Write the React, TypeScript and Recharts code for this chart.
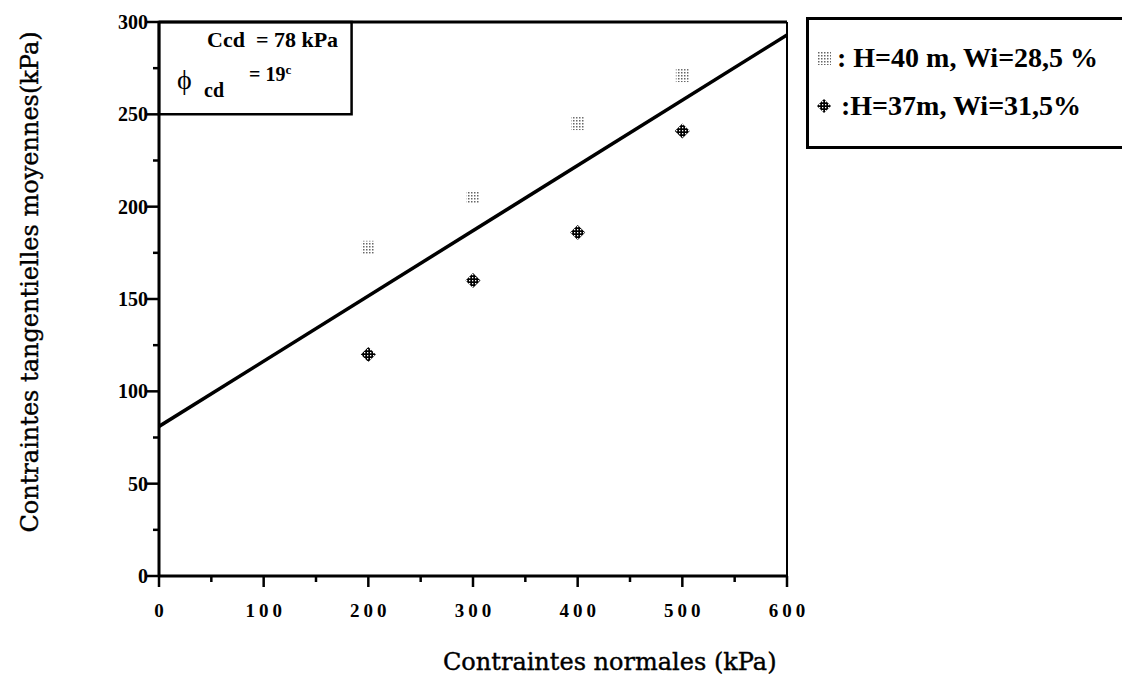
import {
  ComposedChart,
  Line,
  Scatter,
  XAxis,
  YAxis,
  ReferenceLine,
  ReferenceArea,
  Legend,
  Label,
} from "recharts";

const xTicks = [0, 50, 100, 150, 200, 250, 300, 350, 400, 450, 500, 550, 600];
const yTicks = [0, 25, 50, 75, 100, 125, 150, 175, 200, 225, 250, 275, 300];

// H=40 m, Wi=28,5 %
const serieH40 = [
  { x: 200, y: 178 },
  { x: 300, y: 205 },
  { x: 400, y: 245 },
  { x: 500, y: 271 },
];

// H=37m, Wi=31,5%
const serieH37 = [
  { x: 200, y: 120 },
  { x: 300, y: 160 },
  { x: 400, y: 186 },
  { x: 500, y: 241 },
];

// droite intrinsèque
const droite = [
  { x: 0, y: 81 },
  { x: 600, y: 293 },
];

const serif = "'Liberation Serif', 'DejaVu Serif', serif";
const labelFont = "'DejaVu Serif', serif";

function SquareMark({ cx, cy }: any) {
  return (
    <rect
      x={cx - 6.5}
      y={cy - 6.5}
      width={13}
      height={13}
      fill="url(#stippleLight)"
    />
  );
}

function DiamondMark({ cx, cy }: any) {
  return (
    <polygon
      points={`${cx},${cy - 7.5} ${cx + 7.5},${cy} ${cx},${cy + 7.5} ${cx - 7.5},${cy}`}
      fill="url(#checkDark)"
    />
  );
}

function XTick({ x, y, payload }: any) {
  const major = payload.value % 100 === 0;
  return (
    <g>
      <line x1={x} y1={y} x2={x} y2={y + (major ? 11 : 6)} stroke="#000" strokeWidth={2.5} />
      {major && (
        <text
          x={x + 2}
          y={y + 41}
          textAnchor="middle"
          fontFamily={serif}
          fontWeight="bold"
          fontSize={19}
          letterSpacing={4}
          fill="#000"
        >
          {payload.value}
        </text>
      )}
    </g>
  );
}

function YTick({ x, y, payload }: any) {
  const major = payload.value % 50 === 0;
  return (
    <g>
      <line x1={x} y1={y} x2={x - (major ? 12 : 6)} y2={y} stroke="#000" strokeWidth={2.5} />
      {major && (
        <text
          x={x - 11}
          y={y + 7}
          textAnchor="end"
          fontFamily={serif}
          fontWeight="bold"
          fontSize={20}
          fill="#000"
        >
          {payload.value}
        </text>
      )}
    </g>
  );
}

function AnnotBox({ viewBox }: any) {
  const { x, y } = viewBox;
  return (
    <g fontFamily={serif} fill="#000">
      <text x={x + 48} y={y + 25} fontSize={22} fontWeight="bold" style={{ whiteSpace: "pre" }}>
        {"Ccd  = 78 kPa"}
      </text>
      <text x={x + 18} y={y + 67} fontSize={28}>
        ϕ
      </text>
      <text x={x + 45} y={y + 75} fontSize={20} fontWeight="bold">
        cd
      </text>
      <text x={x + 90} y={y + 59} fontSize={20} fontWeight="bold">
        = 19
        <tspan fontSize={13} dy={-7}>c</tspan>
      </text>
    </g>
  );
}

function LegendBox() {
  const row = { display: "flex", alignItems: "center", height: 48, whiteSpace: "pre" as const };
  return (
    <div
      style={{
        fontFamily: serif,
        fontWeight: "bold",
        fontSize: 28,
        color: "#000",
        padding: "14px 0 0 6px",
        lineHeight: 1,
      }}
    >
      <div style={row}>
        <svg width={18} height={18} style={{ marginRight: 4 }}>
          <rect x={2} y={2} width={14} height={14} fill="url(#stippleLight)" />
        </svg>
        <span>: H=40 m, Wi=28,5 %</span>
      </div>
      <div style={row}>
        <svg width={18} height={18} style={{ marginRight: 8 }}>
          <polygon points="9,2 16,9 9,16 2,9" fill="url(#checkDark)" />
        </svg>
        <span>:H=37m, Wi=31,5%</span>
      </div>
    </div>
  );
}

export default function App() {
  return (
    <div style={{ position: "fixed", left: 0, top: 0, width: 1122, height: 676, background: "#fff" }}>
      <svg width={0} height={0} style={{ position: "absolute" }}>
        <defs>
          <pattern id="stippleLight" width={3} height={3} patternUnits="userSpaceOnUse">
            <rect width={3} height={3} fill="#fff" />
            <rect width={1.5} height={1.5} fill="#666" />
          </pattern>
          <pattern id="checkDark" width={3} height={3} patternUnits="userSpaceOnUse">
            <rect width={3} height={3} fill="#000" />
            <rect x={1} y={1} width={1.3} height={1.3} fill="#fff" />
          </pattern>
        </defs>
      </svg>
      <ComposedChart
        width={1122}
        height={676}
        margin={{ top: 22, right: 335, bottom: 0, left: 0 }}
      >
        <XAxis
          dataKey="x"
          type="number"
          domain={[0, 600]}
          ticks={xTicks}
          interval={0}
          tickSize={0}
          tickMargin={0}
          tickLine={false}
          tick={<XTick />}
          axisLine={{ stroke: "#000", strokeWidth: 3 }}
          height={100}
          allowDataOverflow
        >
          <Label
            content={() => (
              <text
                x={443}
                y={670}
                textAnchor="start"
                fontFamily={labelFont}
                fontSize={24}
                fill="#000"
                stroke="#000"
                strokeWidth={0.4}
              >
                Contraintes normales (kPa)
              </text>
            )}
          />
        </XAxis>
        <YAxis
          dataKey="y"
          type="number"
          domain={[0, 300]}
          ticks={yTicks}
          interval={0}
          tickSize={0}
          tickMargin={0}
          tickLine={false}
          tick={<YTick />}
          axisLine={{ stroke: "#000", strokeWidth: 3 }}
          width={159}
          allowDataOverflow
        >
          <Label
            content={() => (
              <text
                x={38}
                y={282}
                transform="rotate(-90, 38, 282)"
                textAnchor="middle"
                fontFamily={labelFont}
                fontSize={24}
                fill="#000"
                stroke="#000"
                strokeWidth={0.4}
              >
                Contraintes tangentielles moyennes(kPa)
              </text>
            )}
          />
        </YAxis>
        <ReferenceLine y={300} stroke="#000" strokeWidth={3} />
        <ReferenceLine x={600} stroke="#000" strokeWidth={2} />
        <ReferenceArea
          x1={0}
          x2={184}
          y1={250}
          y2={300}
          fill="#fff"
          fillOpacity={1}
          stroke="#000"
          strokeWidth={2.5}
          label={<AnnotBox />}
        />
        <Line
          data={droite}
          dataKey="y"
          stroke="#000"
          strokeWidth={3.5}
          dot={false}
          activeDot={false}
          legendType="none"
          isAnimationActive={false}
        />
        <Scatter
          name="H=40 m, Wi=28,5 %"
          data={serieH40}
          dataKey="y"
          shape={<SquareMark />}
          isAnimationActive={false}
        />
        <Scatter
          name="H=37m, Wi=31,5%"
          data={serieH37}
          dataKey="y"
          shape={<DiamondMark />}
          isAnimationActive={false}
        />
        <Legend
          layout="horizontal"
          verticalAlign="middle"
          align="center"
          content={<LegendBox />}
          wrapperStyle={{
            position: "absolute",
            left: 806,
            top: 17,
            width: 330,
            height: 132,
            border: "3px solid #000",
            boxSizing: "border-box",
            background: "#fff",
          }}
        />
      </ComposedChart>
    </div>
  );
}
